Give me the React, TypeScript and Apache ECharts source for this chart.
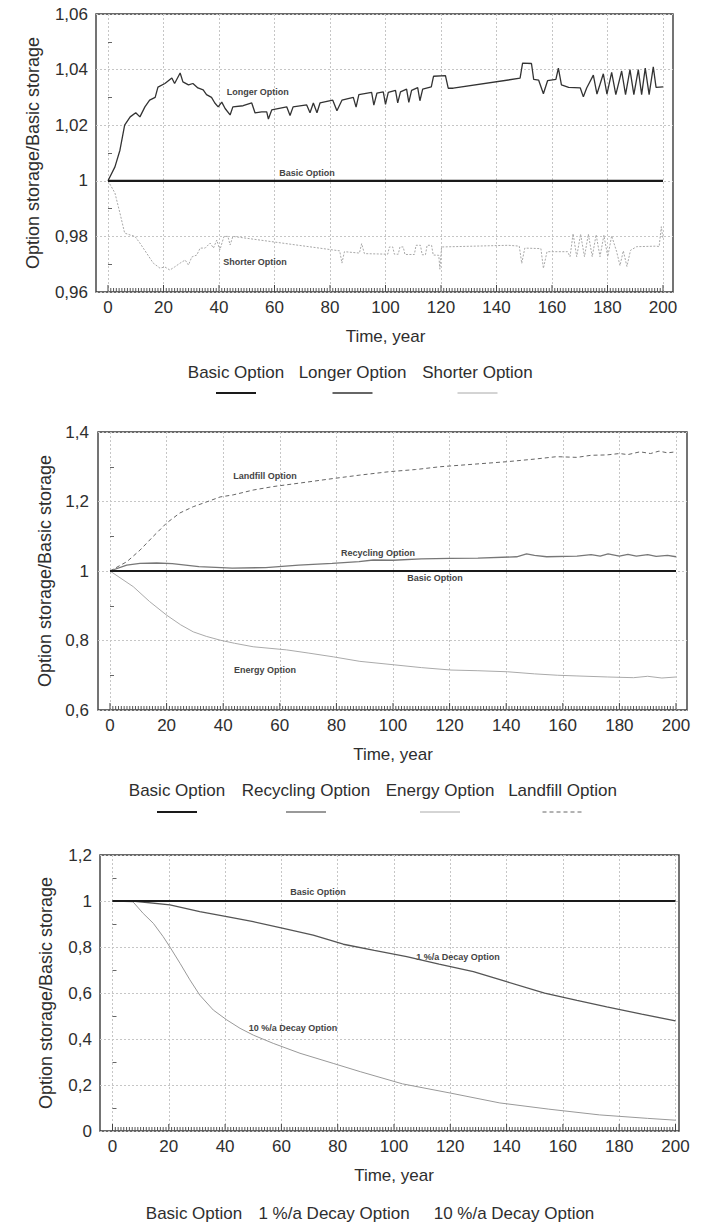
import React, { useEffect, useRef } from 'react';
import * as echarts from 'echarts';

type Pt = [number, number];

// ---------- X axis ----------
const xTickLabels = [0, 20, 40, 60, 80, 100, 120, 140, 160, 180, 200];
// one small tick mark per year along the time axis
const xMinorTicks: number[] = Array.from({ length: 201 }, (_, k) => k);

// ---------- Chart 1: Basic / Longer / Shorter ----------
const basic1: Pt[] = [[0, 1], [200, 1]];
const longer1: Pt[] = [
  [0, 1.0], [2.5, 1.005], [4.3, 1.011], [6, 1.02], [8, 1.023], [10, 1.0245], [11.5, 1.023], [13.3, 1.0266],
  [15, 1.029], [17, 1.03], [18, 1.0337], [20.5, 1.035], [23, 1.037], [24, 1.035], [26, 1.0388], [27, 1.0356],
  [29, 1.0345], [30.6, 1.035], [32.4, 1.0334], [34.3, 1.0327], [35.5, 1.031], [37.3, 1.03], [38.5, 1.028],
  [39.7, 1.0266], [41, 1.0283], [42.2, 1.026], [44, 1.0237], [45, 1.0266], [48.7, 1.027], [51.8, 1.028],
  [53, 1.0244], [55.4, 1.0248], [57.2, 1.0248], [57.8, 1.0222], [59, 1.0255], [64.4, 1.0266], [65.6, 1.0235],
  [66.7, 1.0266], [71.6, 1.0273], [72.8, 1.0245], [74, 1.028], [75.3, 1.0245], [76.4, 1.028], [81, 1.029],
  [82.5, 1.0252], [84.3, 1.029], [88.4, 1.03], [89.4, 1.0265], [90.4, 1.031], [95, 1.0318], [95.8, 1.0272],
  [96.9, 1.0315], [99.2, 1.032], [100, 1.0275], [101, 1.0318], [103.6, 1.0325], [104.4, 1.028], [105.4, 1.032],
  [107.6, 1.033], [108.4, 1.0282], [109.4, 1.0325], [111.6, 1.0335], [112.4, 1.0288], [113.4, 1.033],
  [116.5, 1.0338], [117.3, 1.0376], [121.6, 1.0378], [122.6, 1.0333], [124.4, 1.0333], [148.5, 1.0369],
  [149.4, 1.0423], [152.6, 1.0422], [153.4, 1.0365], [155.2, 1.0362], [156.9, 1.0313], [158.4, 1.036],
  [161.4, 1.0365], [162.3, 1.0405], [163.4, 1.0345], [166, 1.0336], [170.2, 1.0334], [171.3, 1.0302],
  [172.5, 1.0334], [174.9, 1.038], [176.2, 1.0312], [178.5, 1.0385], [179.8, 1.0312], [181.5, 1.039],
  [183, 1.031], [185.1, 1.0395], [186.5, 1.031], [188.1, 1.04], [189.5, 1.031], [191.1, 1.04], [192.3, 1.031],
  [193.6, 1.0405], [195, 1.031], [196.5, 1.041], [197.5, 1.0336], [200, 1.0338],
];
const shorter1: Pt[] = [
  [0, 1.0], [2.5, 0.9956], [4.3, 0.9884], [6, 0.9812], [8, 0.9805], [9.7, 0.98], [11.5, 0.9776], [13.9, 0.974],
  [16.3, 0.9704], [18.7, 0.9686], [20.5, 0.969], [22.3, 0.9679], [24, 0.969], [26, 0.9704], [27.8, 0.9715],
  [29, 0.9697], [30.2, 0.9726], [32, 0.9733], [33.2, 0.9758], [35, 0.9758], [36.8, 0.9776], [38, 0.9758],
  [39.2, 0.9787], [40.3, 0.9751], [41.8, 0.98], [43.2, 0.98], [44, 0.9769], [45, 0.98], [83.5, 0.9748],
  [84.3, 0.9704], [85.2, 0.9745], [90.6, 0.974], [91.4, 0.9774], [92.4, 0.9738], [100.8, 0.9736],
  [101.4, 0.9762], [102.6, 0.9762], [103.2, 0.9736], [104.6, 0.9736], [105.2, 0.9762], [106.4, 0.9762],
  [107, 0.9735], [110.4, 0.9735], [111, 0.9768], [112.6, 0.9768], [113.2, 0.9734], [114.4, 0.9734],
  [115, 0.9768], [116.6, 0.9768], [117.2, 0.9733], [119.2, 0.9732], [119.6, 0.9682], [120.2, 0.9762],
  [144.3, 0.9768], [148.2, 0.9765], [149.1, 0.9703], [150.2, 0.9758], [156, 0.9756], [156.9, 0.9685],
  [158.2, 0.9745], [165.6, 0.9745], [166.5, 0.9727], [167.6, 0.981], [168.9, 0.9727], [170.3, 0.9808],
  [171.7, 0.9727], [173.1, 0.9808], [174.5, 0.9727], [175.9, 0.9806], [177.3, 0.9727], [178.7, 0.9804],
  [180.1, 0.9727], [181.5, 0.9802], [183.3, 0.9745], [184.5, 0.9695], [185.7, 0.9748], [187, 0.9692],
  [188.3, 0.975], [190.5, 0.9763], [197.7, 0.9765], [198.6, 0.9763], [199.4, 0.9835], [200, 0.979],
];

// ---------- Chart 2: Basic / Recycling / Energy / Landfill ----------
const basic2: Pt[] = [[0, 1], [200, 1]];
const recycling2: Pt[] = [
  [0, 1], [5.9, 1.017], [10.6, 1.022], [16.5, 1.023], [22, 1.021], [31.4, 1.0125], [43.2, 1.008], [55, 1.01],
  [66.7, 1.017], [78.5, 1.022], [88, 1.027], [93, 1.0316], [100, 1.031], [110, 1.035], [120.2, 1.0364],
  [130, 1.037], [143.7, 1.041], [147.2, 1.049], [150, 1.045], [154.3, 1.041], [165, 1.043], [170, 1.047],
  [173.2, 1.043], [176, 1.049], [180, 1.043], [183, 1.048], [186, 1.043], [190, 1.047], [193, 1.042],
  [197, 1.045], [200, 1.041],
];
const energy2: Pt[] = [
  [0, 1], [8.2, 0.955], [14, 0.912], [20, 0.873], [25, 0.845], [29.4, 0.825], [34, 0.812], [38.9, 0.801],
  [44, 0.792], [50.6, 0.782], [62.4, 0.773], [70, 0.764], [78.9, 0.753], [88.3, 0.74], [100.4, 0.73],
  [110, 0.722], [120.5, 0.715], [130, 0.713], [140.5, 0.71], [150, 0.704], [158.2, 0.7], [165, 0.698],
  [175.9, 0.695], [185, 0.693], [190, 0.697], [195, 0.692], [200, 0.695],
];
const landfill2: Pt[] = [
  [0, 1], [6, 1.027], [10.6, 1.06], [15.2, 1.099], [20, 1.138], [24.7, 1.167], [29.4, 1.185], [34.2, 1.199],
  [38.9, 1.213], [43.5, 1.219], [50.6, 1.233], [57.7, 1.243], [67, 1.253], [78.8, 1.266], [88.3, 1.276],
  [98.9, 1.286], [108, 1.292], [116.6, 1.3], [128, 1.307], [140.2, 1.3145], [150, 1.322], [157.8, 1.329],
  [165, 1.327], [170, 1.333], [175.5, 1.334], [180, 1.338], [183, 1.335], [187.3, 1.343], [191, 1.338],
  [194, 1.345], [197, 1.34], [200, 1.343],
];

// ---------- Chart 3: Basic / 1 %/a / 10 %/a ----------
const basic3: Pt[] = [[0, 1], [200, 1]];
const decay1pct3: Pt[] = [
  [0, 1], [7, 1], [20.4, 0.983], [31, 0.954], [40.6, 0.932], [50, 0.91], [60.7, 0.881], [71.3, 0.852],
  [82, 0.812], [93, 0.785], [104.5, 0.758], [116, 0.726], [128.2, 0.693], [140, 0.649], [153.5, 0.599],
  [165, 0.568], [175.6, 0.54], [188, 0.508], [200, 0.479],
];
const decay10pct3: Pt[] = [
  [0, 1], [7.3, 0.996], [10.9, 0.946], [14.5, 0.903], [18, 0.845], [20.4, 0.8], [24, 0.729], [27.5, 0.657],
  [31, 0.591], [35.8, 0.526], [40.6, 0.483], [45.3, 0.4465], [50, 0.417], [57.1, 0.381], [66.6, 0.338],
  [78.4, 0.294], [88, 0.258], [103, 0.205], [120, 0.165], [137.6, 0.122], [155, 0.095], [173, 0.07],
  [190, 0.055], [200, 0.047],
];

const FONT = '"Liberation Sans", Arial, Helvetica, sans-serif';
const TXT = '#2e2e2e';
const FRAME = '#3a3a3a';

type S = {
  name: string; data: Pt[]; color: string; width: number; dash?: number[] | 'solid';
  label?: Pt;
};
type Panel = {
  fl: number; fr: number; x0: number; x1: number; t: number; b: number;
  yMin: number; yMax: number; yStep: number; yNameGap: number; yLabelMargin: number;
  series: S[]; legendCenters: number[]; legendY: number; legendLineY?: number;
};

const panels: Panel[] = [
  {
    fl: 96, fr: 673, x0: 108, x1: 663, t: 14, b: 292, yMin: 0.96, yMax: 1.06, yStep: 0.02, yNameGap: 54, yLabelMargin: 8,
    series: [
      { name: 'Basic Option', data: basic1, color: '#1a1a1a', width: 2.2, label: [71.7, 1.0028] },
      { name: 'Longer Option', data: longer1, color: '#333', width: 1.3, label: [54, 1.032] },
      { name: 'Shorter Option', data: shorter1, color: '#a8a8a8', width: 1, dash: [2, 1.5], label: [53, 0.9708] },
    ],
    legendCenters: [236, 352.5, 477.5], legendY: 372, legendLineY: 393,
  },
  {
    fl: 98, fr: 687, x0: 110, x1: 676, t: 432, b: 710, yMin: 0.6, yMax: 1.4, yStep: 0.2, yNameGap: 44, yLabelMargin: 9,
    series: [
      { name: 'Basic Option', data: basic2, color: '#1a1a1a', width: 2.2, label: [114.8, 0.98] },
      { name: 'Recycling Option', data: recycling2, color: '#777', width: 1.3, label: [94.7, 1.0518] },
      { name: 'Energy Option', data: energy2, color: '#aaa', width: 1, label: [54.8, 0.715] },
      { name: 'Landfill Option', data: landfill2, color: '#666', width: 1, dash: [4, 3], label: [54.8, 1.2734] },
    ],
    legendCenters: [177, 306, 440, 562.5], legendY: 790, legendLineY: 812,
  },
  {
    fl: 100, fr: 679, x0: 112.5, x1: 675.5, t: 855, b: 1131, yMin: 0, yMax: 1.2, yStep: 0.2, yNameGap: 45, yLabelMargin: 8,
    series: [
      { name: 'Basic Option', data: basic3, color: '#1a1a1a', width: 2.2, label: [73, 1.039] },
      { name: '1 %/a Decay Option', data: decay1pct3, color: '#555', width: 1.3, label: [122.7, 0.7565] },
      { name: '10 %/a Decay Option', data: decay10pct3, color: '#999', width: 1, label: [64.1, 0.448] },
    ],
    legendCenters: [194, 334, 514], legendY: 1213,
  },
];

const fmt = (v: number) => String(Math.round(v * 100) / 100).replace('.', ',');
const gridLine = { show: true, lineStyle: { color: '#c6c6c6', type: [2, 2] as number[], width: 1 } };

function buildOption() {
  const grid: any[] = [];
  const xAxis: any[] = [];
  const yAxis: any[] = [];
  const series: any[] = [];
  const graphic: any[] = [];
  const xMin = xTickLabels[0];
  const xMax = xTickLabels[xTickLabels.length - 1];
  const xStep = xTickLabels[1] - xTickLabels[0];

  panels.forEach((p, i) => {
    const fi = 2 * i;
    const di = 2 * i + 1;
    grid.push({
      left: p.fl, top: p.t, width: p.fr - p.fl, height: p.b - p.t,
      show: true, borderColor: FRAME, borderWidth: 1.4, backgroundColor: 'rgba(0,0,0,0)',
    });
    grid.push({ left: p.x0, top: p.t, width: p.x1 - p.x0, height: p.b - p.t });

    xAxis.push({ gridIndex: fi, type: 'value', min: 0, max: 1, show: false });
    xAxis.push({
      gridIndex: di, type: 'value', position: 'bottom', min: xMin, max: xMax, interval: xStep,
      axisLine: { show: false, onZero: false },
      axisTick: { show: false },
      splitLine: gridLine,
      axisLabel: { show: true, fontSize: 17, color: TXT, margin: 7, fontFamily: FONT },
      name: 'Time, year', nameLocation: 'middle', nameGap: 36,
      nameTextStyle: { fontSize: 17, color: TXT, fontFamily: FONT },
    });

    yAxis.push({
      gridIndex: fi, type: 'value', min: p.yMin, max: p.yMax, interval: p.yStep,
      axisLine: { show: false }, axisTick: { show: false },
      splitLine: gridLine,
      axisLabel: { formatter: fmt, fontSize: 17, color: TXT, margin: p.yLabelMargin, fontFamily: FONT },
      name: 'Option storage/Basic storage', nameLocation: 'middle', nameGap: p.yNameGap,
      nameTextStyle: { fontSize: 18, color: TXT, fontFamily: FONT },
    });
    yAxis.push({
      gridIndex: di, type: 'value', min: p.yMin, max: p.yMax, interval: p.yStep,
      axisLine: { show: false }, axisTick: { show: false, inside: true }, axisLabel: { show: false },
      splitLine: { show: false },
      minorTick: { show: true, splitNumber: 2, length: 4, lineStyle: { color: '#666' } },
    });

    // year tick marks along the bottom edge, positioned by the x scale (short rect symbols)
    series.push({
      type: 'scatter', xAxisIndex: di, yAxisIndex: di, silent: true, clip: false, z: 1,
      symbol: 'rect', symbolSize: [1, 4], symbolOffset: [0, -2],
      itemStyle: { color: '#555', opacity: 1 },
      data: xMinorTicks.filter((x) => x % xStep !== 0).map((x) => [x, p.yMin]),
    });
    series.push({
      type: 'scatter', xAxisIndex: di, yAxisIndex: di, silent: true, clip: false, z: 1,
      symbol: 'rect', symbolSize: [1, 7], symbolOffset: [0, -3.5],
      itemStyle: { color: '#444', opacity: 1 },
      data: xTickLabels.map((x) => [x, p.yMin]),
    });

    p.series.forEach((s, k) => {
      series.push({
        type: 'line', name: s.name, xAxisIndex: di, yAxisIndex: di, data: s.data,
        symbol: 'none', showSymbol: false, silent: true,
        lineStyle: { color: s.color, width: s.width, type: s.dash || 'solid' },
        z: 10 - k,
        markPoint: s.label ? {
          symbol: 'circle', symbolSize: 0, silent: true, animation: false,
          itemStyle: { color: 'rgba(0,0,0,0)' },
          label: {
            show: true, position: 'inside', formatter: s.name, fontSize: 9, fontWeight: 'bold',
            color: '#444', fontFamily: FONT,
          },
          data: [{ coord: s.label }],
        } : undefined,
      });

      const cx = p.legendCenters[k];
      graphic.push({
        type: 'text', x: cx, y: p.legendY, silent: true,
        style: {
          text: s.name, fill: TXT, fontSize: 17, fontFamily: FONT,
          align: 'center', verticalAlign: 'middle', textAlign: 'center', textVerticalAlign: 'middle',
        },
      });
      if (p.legendLineY !== undefined) {
        graphic.push({
          type: 'line', silent: true,
          shape: { x1: cx - 20, y1: p.legendLineY, x2: cx + 20, y2: p.legendLineY },
          style: {
            stroke: s.color, lineWidth: s.width,
            lineDash: Array.isArray(s.dash) && s.dash[0] > 3 ? s.dash : null,
          },
        });
      }
    });
  });

  return {
    animation: false,
    backgroundColor: '#ffffff',
    textStyle: { fontFamily: FONT },
    grid, xAxis, yAxis, series, graphic,
  };
}

export default function App() {
  const ref = useRef<HTMLDivElement>(null);
  useEffect(() => {
    if (!ref.current) return;
    const chart = echarts.init(ref.current, undefined, { renderer: 'svg' });
    chart.setOption(buildOption() as any);
    return () => chart.dispose();
  }, []);
  return (
    <div
      ref={ref}
      style={{ position: 'absolute', left: 0, top: 0, width: 703, height: 1222, background: '#fff' }}
    />
  );
}
